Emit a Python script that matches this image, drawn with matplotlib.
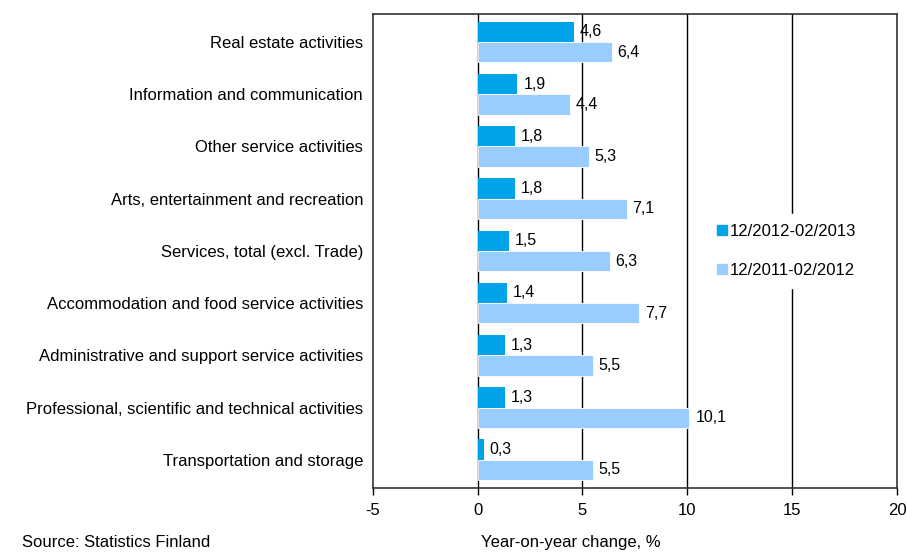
"""service sector turnover, year-on-year change"""
import matplotlib
matplotlib.use("Agg")
from matplotlib import pyplot as plt
from matplotlib.patches import Patch
import numpy as np

plt.rcParams["font.family"] = ["Liberation Sans", "DejaVu Sans"]
plt.rcParams["axes.unicode_minus"] = False

categories = [
    "Real estate activities",
    "Information and communication",
    "Other service activities",
    "Arts, entertainment and recreation",
    "Services, total (excl. Trade)",
    "Accommodation and food service activities",
    "Administrative and support service activities",
    "Professional, scientific and technical activities",
    "Transportation and storage",
]
recent = [4.6, 1.9, 1.8, 1.8, 1.5, 1.4, 1.3, 1.3, 0.3]
previous = [6.4, 4.4, 5.3, 7.1, 6.3, 7.7, 5.5, 10.1, 5.5]
series_names = ["12/2012-02/2013", "12/2011-02/2012"]

DARK = "#00A2E8"
LIGHT = "#99CCFF"
BAR_H = 0.39

fig = plt.figure(figsize=(9.07, 5.52), dpi=100)
ax = fig.add_axes([0.411, 0.116, 0.578, 0.859])

y = np.arange(len(categories))
ax.barh(y - BAR_H / 2, recent, height=BAR_H, color=DARK, zorder=3)
ax.barh(y + BAR_H / 2, previous, height=BAR_H, color=LIGHT,
        edgecolor="white", linewidth=0.6, zorder=3)

for yi, v in zip(y, recent):
    ax.text(v + 0.28, yi - BAR_H / 2, f"{v:.1f}".replace(".", ","),
            va="center", ha="left", fontsize=11.5, zorder=4)
for yi, v in zip(y, previous):
    ax.text(v + 0.28, yi + BAR_H / 2, f"{v:.1f}".replace(".", ","),
            va="center", ha="left", fontsize=11.5, zorder=4)

ax.set_xlim(-5, 20)
ax.set_ylim(len(categories) - 0.46, -0.54)
ax.set_xticks([-5, 0, 5, 10, 15, 20])
ax.tick_params(axis="x", direction="out", length=5, width=1, labelsize=12, pad=6)
ax.set_yticks(y)
ax.set_yticklabels(categories, fontsize=12)
ax.tick_params(axis="y", length=0, pad=7)

for gx in [0, 5, 10, 15]:
    ax.axvline(gx, color="black", linewidth=1, zorder=1)
for s in ax.spines.values():
    s.set_color("#333333")
    s.set_linewidth(1.2)

handles = [Patch(color=DARK), Patch(color=LIGHT)]
leg = ax.legend(handles, series_names, loc="center left",
                bbox_to_anchor=(0.622, 0.5), frameon=True, fontsize=12,
                handlelength=0.6, handleheight=0.6, handletextpad=0.15,
                labelspacing=1.45, borderpad=0.6)
leg.get_frame().set_facecolor("white")
leg.get_frame().set_edgecolor("white")
leg.get_frame().set_alpha(1)
leg.set_zorder(5)

fig.text(571 / 907, 2 / 552, "Year-on-year change, %",
         ha="center", va="bottom", fontsize=12)
fig.text(22 / 907, 2 / 552, "Source: Statistics Finland",
         ha="left", va="bottom", fontsize=12)

fig.savefig("out.png", dpi=100)
